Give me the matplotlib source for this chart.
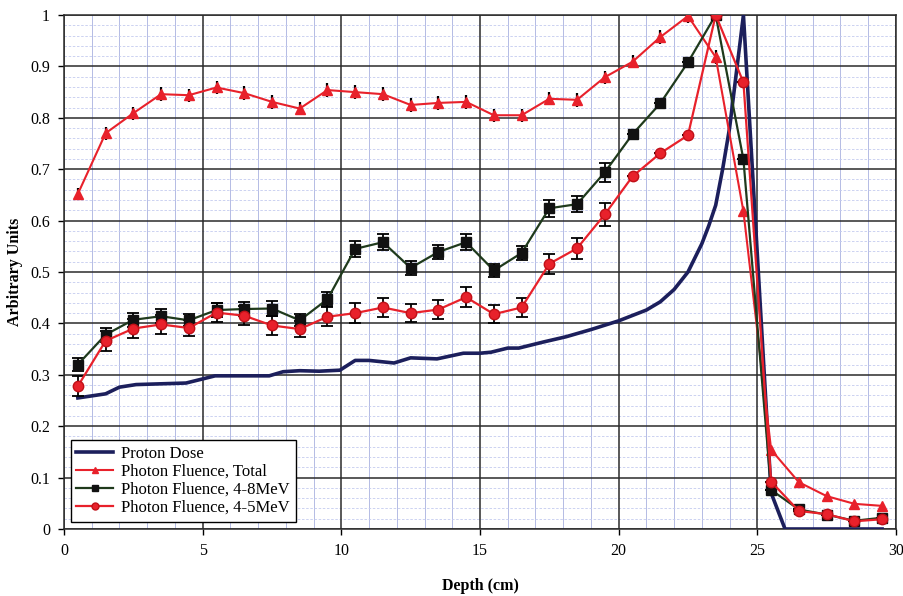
import numpy as np
import matplotlib.pyplot as plt
from matplotlib.ticker import MultipleLocator

# --- DATA ---
depth = [0.5, 1.5, 2.5, 3.5, 4.5, 5.5, 6.5, 7.5, 8.5, 9.5,
         10.5, 11.5, 12.5, 13.5, 14.5, 15.5, 16.5, 17.5, 18.5, 19.5,
         20.5, 21.5, 22.5, 23.5, 24.5, 25.5, 26.5, 27.5, 28.5, 29.5]

total = [0.652, 0.770, 0.809, 0.846, 0.844, 0.859, 0.848, 0.831, 0.818, 0.854,
         0.850, 0.846, 0.825, 0.829, 0.831, 0.805, 0.805, 0.837, 0.835, 0.879,
         0.909, 0.957, 0.998, 0.918, 0.618, 0.154, 0.091, 0.064, 0.049, 0.045]
total_err = [0.012, 0.013, 0.013, 0.013, 0.013, 0.013, 0.013, 0.013, 0.013, 0.013,
             0.013, 0.013, 0.013, 0.013, 0.013, 0.013, 0.013, 0.013, 0.013, 0.013,
             0.013, 0.013, 0.013, 0.013, 0.0, 0.0, 0.0, 0.0, 0.0, 0.0]

mev48 = [0.320, 0.378, 0.407, 0.414, 0.406, 0.426, 0.428, 0.429, 0.406, 0.447,
         0.545, 0.558, 0.508, 0.539, 0.558, 0.503, 0.537, 0.624, 0.632, 0.694,
         0.768, 0.828, 0.908, 1.0, 0.719, 0.076, 0.038, 0.028, 0.016, 0.022]
mev48_err = [0.012, 0.014, 0.014, 0.014, 0.012, 0.014, 0.014, 0.014, 0.012, 0.014,
             0.015, 0.015, 0.013, 0.014, 0.015, 0.013, 0.014, 0.016, 0.016, 0.018,
             0.0, 0.0, 0.0, 0.0, 0.0, 0.0, 0.0, 0.0, 0.0, 0.0]

mev45 = [0.278, 0.366, 0.390, 0.398, 0.391, 0.421, 0.415, 0.396, 0.389, 0.413,
         0.420, 0.431, 0.420, 0.427, 0.451, 0.418, 0.431, 0.516, 0.546, 0.612,
         0.686, 0.731, 0.766, 1.0, 0.869, 0.092, 0.035, 0.029, 0.015, 0.019]
mev45_err = [0.019, 0.019, 0.019, 0.019, 0.016, 0.018, 0.018, 0.018, 0.016, 0.018,
             0.019, 0.019, 0.018, 0.018, 0.02, 0.018, 0.019, 0.02, 0.02, 0.022,
             0.0, 0.0, 0.0, 0.0, 0.0, 0.0, 0.0, 0.0, 0.0, 0.0]

dose_depth = [0.5, 1.5, 2.0, 2.6, 4.4, 5.45, 7.4, 7.9, 8.5, 9.2, 9.95, 10.5, 11.0,
              11.9, 12.5, 13.45, 14.4, 15.0, 15.4, 16.0, 16.4, 17.3, 18.1, 19.0,
              20.0, 21.0, 21.5, 22.0, 22.5, 23.0, 23.25, 23.5, 23.75, 24.0, 24.25,
              24.5, 25.5, 26.0, 27.0, 28.0, 29.0, 29.5]
dose = [0.255, 0.263, 0.276, 0.281, 0.284, 0.298, 0.298, 0.306, 0.308, 0.307, 0.309,
        0.328, 0.328, 0.323, 0.333, 0.331, 0.342, 0.342, 0.344, 0.352, 0.352, 0.364,
        0.374, 0.388, 0.405, 0.426, 0.442, 0.466, 0.500, 0.555, 0.59, 0.63, 0.70,
        0.78, 0.89, 1.0, 0.07, 0.0, 0.0, 0.0, 0.0, 0.0]

NAVY = "#1c1f5c"
RED = "#e8212b"
GREEN = "#1f3a1c"
GRID_DARK = "#2b2b2b"

plt.rcParams['font.family'] = ['Liberation Serif', 'DejaVu Serif']

fig = plt.figure(figsize=(9.04, 5.96), dpi=100)
ax = fig.add_axes([0.0708, 0.1124, 0.9203, 0.8624])

ax.set_xlim(0, 30)
ax.set_ylim(0, 1)

# grid: light minor grid from the axis, dark major lines drawn on top of it
ax.xaxis.set_major_locator(MultipleLocator(5))
ax.xaxis.set_minor_locator(MultipleLocator(1))
ax.yaxis.set_major_locator(MultipleLocator(0.1))
ax.yaxis.set_minor_locator(MultipleLocator(0.02))
ax.grid(which='minor', axis='x', color='#b4bbe4', lw=0.7, ls='-')
ax.grid(which='minor', axis='y', color='#c4cbef', lw=0.6, ls=(0, (3, 2)))
ax.set_axisbelow(True)
for v in ax.get_xticks():
    ax.axvline(v, color=GRID_DARK, lw=1.1, zorder=1)
for v in ax.get_yticks():
    ax.axhline(v, color=GRID_DARK, lw=1.1, zorder=1)

ax.plot(dose_depth, dose, color=NAVY, lw=2.6, label='Proton Dose', zorder=3)

ax.errorbar(depth, total, yerr=total_err, fmt='none', ecolor='black', elinewidth=1.6,
            capsize=0, zorder=4)
ax.plot(depth, total, color=RED, lw=1.5, marker='^', ms=7, mfc=RED, mec=RED,
        label='Photon Fluence, Total', zorder=5)

ax.errorbar(depth, mev48, yerr=mev48_err, fmt='none', ecolor='black', elinewidth=1.3,
            capsize=4, capthick=1.3, zorder=4)
ax.plot(depth, mev48, color=GREEN, lw=1.6, marker='s', ms=6.5, mfc='#111111', mec='#111111',
        label='Photon Fluence, 4-8MeV', zorder=5)

ax.errorbar(depth, mev45, yerr=mev45_err, fmt='none', ecolor='black', elinewidth=1.3,
            capsize=4, capthick=1.3, zorder=4)
ax.plot(depth, mev45, color=RED, lw=1.6, marker='o', ms=7.5, mfc=RED, mec='#c01018',
        label='Photon Fluence, 4-5MeV', zorder=6)

ax.set_xlim(0, 30)
ax.set_ylim(0, 1)
ax.set_yticks(np.arange(0, 1.01, 0.1))
ax.set_yticklabels(['0', '0.1', '0.2', '0.3', '0.4', '0.5', '0.6', '0.7', '0.8', '0.9', '1'])
ax.tick_params(which='major', direction='out', length=4, width=1, labelsize=11.5, pad=6)
ax.tick_params(which='minor', length=0)
for s in ax.spines.values():
    s.set_color(GRID_DARK)
    s.set_linewidth(1.1)

ax.set_xlabel('Depth (cm)', fontsize=11.5, fontweight='bold', labelpad=14)
ax.set_ylabel('Arbitrary Units', fontsize=11.5, fontweight='bold', labelpad=5)

leg = ax.legend(loc='lower left', bbox_to_anchor=(0.008, 0.014), fontsize=12,
                frameon=True, fancybox=False, edgecolor='black', framealpha=1,
                handlelength=2.2, handletextpad=0.5, borderpad=0.35, labelspacing=0.12,
                borderaxespad=0)
leg.get_frame().set_linewidth(1.0)
leg.set_zorder(10)
for h in leg.legend_handles:
    h.set_markersize(5)

fig.savefig('out.png', dpi=100, facecolor='white')
